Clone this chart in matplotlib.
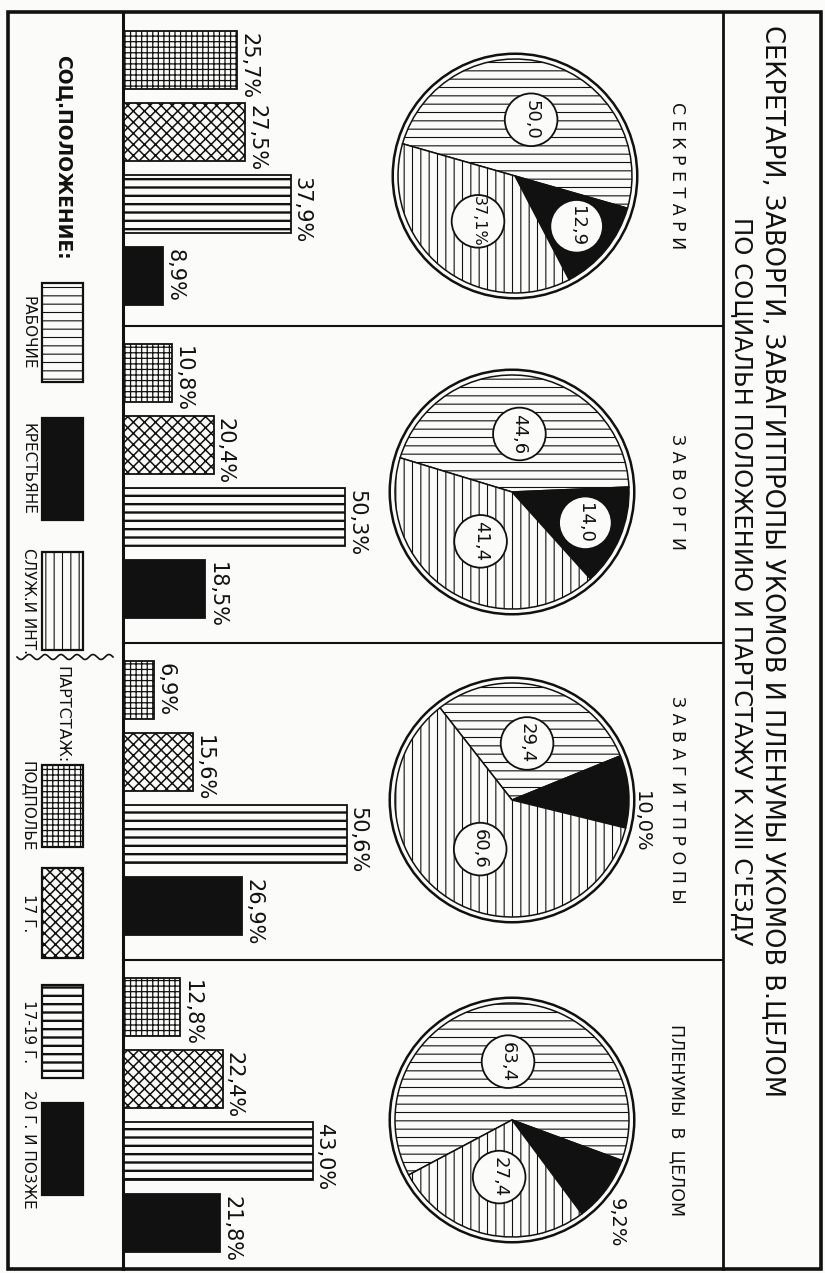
"""
Secretaries, org and agitprop heads of uyezd committees and plenums as a whole,
by social position (pies) and party tenure (bars), before the XIII congress.
Drawn rotated, the way the original sheet is photographed.
"""

import numpy as np
import matplotlib

matplotlib.use("Agg")
import matplotlib.pyplot as plt
from matplotlib.patches import Rectangle, Circle

W, H = 825, 1273
PAPER = "#fbfbfa"
INK = "#111111"

# ---- data ----
GROUPS = ["С Е К Р Е Т А Р И", "З А В О Р Г И", "З А В А Г И Т П Р О П Ы", "ПЛЕНУМЫ  В  ЦЕЛОМ"]

# social position, % (pie)
SOCIAL_LABELS = ["РАБОЧИЕ", "КРЕСТЬЯНЕ", "СЛУЖ.И ИНТ."]
WORKERS = [50.0, 44.6, 29.4, 63.4]
PEASANTS = [12.9, 14.0, 10.0, 9.2]
EMPLOYEES = [37.1, 41.4, 60.6, 27.4]

# party tenure, % (bars)
STAZH_LABELS = ["ПОДПОЛЬЕ", "17 Г.", "17-19 Г.", "20 Г. И ПОЗЖЕ"]
UNDERGROUND = [25.7, 10.8, 6.9, 12.8]
JOINED_1917 = [27.5, 20.4, 15.6, 22.4]
JOINED_1917_19 = [37.9, 50.3, 50.6, 43.0]
JOINED_1920 = [8.9, 18.5, 26.9, 21.8]

# ---- layout (pixels of the output image) ----
PANEL_TOP = [13, 326, 643, 960]
PIE_CENTER = [(515, 176), (512, 492), (512, 800), (512, 1120)]
PIE_R = 117
START_ANGLE = [164, 163, 128, 208]
PX_PER_PCT = 4.4

SOCIAL_STYLE = [dict(fc=PAPER, hatch="--", lw=0.8),
                dict(fc=INK, hatch=None, lw=0.8),
                dict(fc=PAPER, hatch="||", lw=0.8)]
STAZH_STYLE = [dict(fc=PAPER, hatch="+++", lw=0.9),
               dict(fc=PAPER, hatch="xxx", lw=1.1),
               dict(fc=PAPER, hatch="--", lw=1.7),
               dict(fc=INK, hatch=None, lw=1.0)]

plt.rcParams["font.family"] = ["DejaVu Sans"]
plt.rcParams["hatch.color"] = INK


def fmt(v):
    return "{:.1f}".format(v).replace(".", ",")


def set_hatch(patch, style):
    patch.set_facecolor(style["fc"])
    if style["hatch"]:
        patch.set_hatch(style["hatch"])
        if hasattr(patch, "set_hatch_linewidth"):
            patch.set_hatch_linewidth(style["lw"])


def main():
    fig = plt.figure(figsize=(W / 100, H / 100), dpi=100, facecolor=PAPER)

    def px_axes(x0, y0, x1, y1):
        return fig.add_axes([x0 / W, 1 - y1 / H, (x1 - x0) / W, (y1 - y0) / H])

    base = px_axes(0, 0, W, H)
    base.set_xlim(0, W)
    base.set_ylim(H, 0)
    base.axis("off")

    # frame and dividing lines
    base.add_patch(Rectangle((8, 12), 813, 1257, fill=False, ec=INK, lw=2.6))
    base.plot([123, 123], [12, 1269], color=INK, lw=2.2)
    base.plot([723, 723], [12, 1269], color=INK, lw=2.0)
    for y in PANEL_TOP[1:]:
        base.plot([123, 723], [y, y], color=INK, lw=1.5)

    # title, rotated to read top-to-bottom
    base.text(773, 561, "СЕКРЕТАРИ, ЗАВОРГИ, ЗАВАГИТПРОПЫ УКОМОВ И ПЛЕНУМЫ УКОМОВ В.ЦЕЛОМ",
              rotation=-90, rotation_mode="anchor", ha="center", va="center",
              fontsize=18.5, color=INK)
    base.text(741, 581, "ПО СОЦИАЛЬН ПОЛОЖЕНИЮ И ПАРТСТАЖУ К XIII С'ЕЗДУ",
              rotation=-90, rotation_mode="anchor", ha="center", va="center",
              fontsize=17.5, color=INK)

    # legend strip
    base.text(63, 157, "СОЦ.ПОЛОЖЕНИЕ:", rotation=-90, rotation_mode="anchor",
              ha="center", va="center", fontsize=13.5, fontweight="bold", color=INK)
    base.text(62, 715, "ПАРТСТАЖ:", rotation=-90, rotation_mode="anchor",
              ha="center", va="center", fontsize=11.5, color=INK)
    wave_x = np.linspace(17, 113, 200)
    base.plot(wave_x, 657 + 2.5 * np.sin((wave_x - 17) / 96 * 2 * np.pi * 6),
              color=INK, lw=1.2)

    social_boxes = [(283, 382), (418, 520), (552, 650)]
    stazh_boxes = [(765, 847), (868, 958), (985, 1078), (1103, 1195)]
    for (y0, y1), style, lab in zip(social_boxes + stazh_boxes,
                                    SOCIAL_STYLE + STAZH_STYLE,
                                    SOCIAL_LABELS + STAZH_LABELS):
        r = Rectangle((42, y0), 41, y1 - y0, ec=INK, lw=1.6)
        set_hatch(r, style)
        base.add_patch(r)
        base.text(28, (y0 + y1) / 2, lab, rotation=-90, rotation_mode="anchor",
                  ha="center", va="center", fontsize=11, color=INK)

    for i in range(4):
        top = PANEL_TOP[i]

        # ---- bars: party tenure ----
        bx = px_axes(124, top + 11, 124 + 60 * PX_PER_PCT, top + 11 + 4 * 72)
        bx.set_xlim(0, 60)
        bx.set_ylim(3.5, -0.5)
        bx.axis("off")
        vals = [UNDERGROUND[i], JOINED_1917[i], JOINED_1917_19[i], JOINED_1920[i]]
        bars = bx.barh(range(4), vals, height=0.8, edgecolor=INK, linewidth=1.3)
        for k, (bar, style) in enumerate(zip(bars, STAZH_STYLE)):
            set_hatch(bar, style)
            bx.annotate(fmt(vals[k]) + "%", (vals[k], k - 0.4), xytext=(8, -1),
                        textcoords="offset points", rotation=-90, rotation_mode="anchor",
                        ha="left", va="center", fontsize=15, color=INK)

        # ---- pie: social position ----
        cx, cy = PIE_CENTER[i]
        half = 150
        px = px_axes(cx - half, cy - half, cx + half, cy + half)
        lim = half / PIE_R
        shares = [WORKERS[i], PEASANTS[i], EMPLOYEES[i]]
        wedges, _ = px.pie(shares, startangle=START_ANGLE[i], counterclock=False,
                           radius=1.0, wedgeprops=dict(edgecolor=INK, linewidth=1.1))
        for w, style in zip(wedges, SOCIAL_STYLE):
            set_hatch(w, style)
        px.add_patch(Circle((0, 0), 1.045, fill=False, ec=INK, lw=1.8))
        px.set_xlim(-lim, lim)
        px.set_ylim(-lim, lim)
        px.set_aspect("equal")
        px.axis("off")

        for k, w in enumerate(wedges):
            mid = np.deg2rad((w.theta1 + w.theta2) / 2)
            label = fmt(shares[k])
            if k == 1 and shares[k] < 11:
                # small peasant share: written outside the circle
                px.text(1.11 * np.cos(mid), 1.11 * np.sin(mid), label + "%",
                        rotation=-90, rotation_mode="anchor", ha="left", va="center",
                        fontsize=14, color=INK, clip_on=False)
                continue
            rr = 0.68 if k == 1 else 0.5
            lx, ly = rr * np.cos(mid), rr * np.sin(mid)
            px.add_patch(Circle((lx, ly), 0.225, fc=PAPER, ec=INK, lw=1.3, zorder=3))
            if i == 0 and k == 2:
                label += "%"
            px.text(lx, ly, label, rotation=-90, rotation_mode="anchor",
                    ha="center", va="center", fontsize=13 if len(label) < 5 else 11.5,
                    color=INK, zorder=4)

        base.text(677, cy, GROUPS[i], rotation=-90, rotation_mode="anchor",
                  ha="center", va="center", fontsize=12.5, color=INK)

    fig.savefig("out.png", dpi=100, facecolor=PAPER)
    plt.close(fig)


if __name__ == "__main__":
    main()
